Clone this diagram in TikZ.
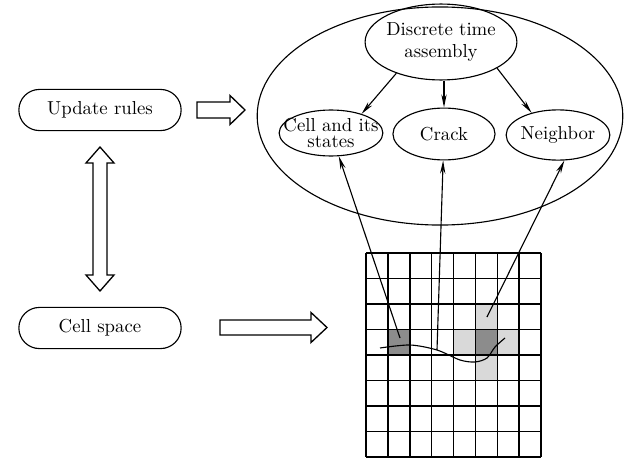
\documentclass[tikz,border=0pt]{standalone}
\usepackage{tikz}
\usetikzlibrary{positioning,shapes.geometric,shapes.misc,arrows.meta}

\tikzset{
  rulebox/.style={rounded rectangle, draw, line width=0.6pt, minimum width=3.27cm, minimum height=0.77cm},
  oval/.style={ellipse, draw, line width=0.6pt, inner sep=0pt},
  link/.style={-{Stealth[length=7pt,width=2.8pt]}, line width=0.6pt},
  fat/.style={draw, line width=0.7pt, fill=white, line join=miter},
}

\begin{document}
\begin{tikzpicture}[x=0.0187cm, y=-0.0187cm]
\useasboundingbox (0,0) rectangle (625,458);

\node[rulebox] (upd) at (100,110) {Update rules};
\node[rulebox] (cel) at (100,328) {Cell space};

% the model
\node[oval, minimum width=6.84cm, minimum height=4.08cm] (big) at (440,116) {};
\node[oval, minimum width=2.84cm, minimum height=1.42cm] (dta) at (441,42) {};
\node[oval, minimum width=1.94cm, minimum height=0.86cm] (cst) at (331,133) {};
\node[oval, minimum width=1.91cm, minimum height=0.97cm] (crk) at (444,134) {};
\node[oval, minimum width=1.94cm, minimum height=0.94cm] (nbr) at (558,135) {};
\node[align=center] (dtatxt) at (dta) {Discrete time\\assembly};
\node[align=center] (csttxt) at (cst) {Cell and its\\[-3pt]states};
\node (crktxt) at (crk) {Crack};
\node (nbrtxt) at (nbr) {Neighbor};

\draw[link] (dta.-145) -- (cst.32);
\draw[link] (dta.south -| crk.north) -- (crk.north);
\draw[link] (dta.-25) -- (nbr.140);

% cell space grid
\fill[black!45] (366+1*21.875,253+3*25.5) rectangle ++(21.875,25.5);
\foreach \c/\r in {5/2,4/3,6/3,5/4}
  \fill[black!15] (366+\c*21.875,253+\r*25.5) rectangle ++(21.875,25.5);
\fill[black!45] (366+5*21.875,253+3*25.5) rectangle ++(21.875,25.5);
\foreach \i in {0,...,8} {
  \draw[line width=0.8pt] (366+\i*21.875,253) -- ++(0,204);
  \draw[line width=0.8pt] (366,253+\i*25.5) -- ++(175,0);
}
\draw[line width=0.6pt] plot[smooth] coordinates {(380,348) (410,345) (437,350) (460,360) (475,362) (487,358) (495,347) (505,338)};

\coordinate (p1) at (400,338);
\coordinate (p2) at (437,350);
\coordinate (p3) at (487,317);
\draw[link] (p1) -- (cst);
\draw[link] (p2) -- (crk);
\draw[link] (p3) -- (nbr.-76);

% hollow arrows
\coordinate (ua) at (197,110);
\coordinate (ca) at (220,327.5);
\coordinate (va) at (100,147);
\draw[fat] (ua) -- ++(0,-8) -- ++(33,0) -- ++(0,-6.5) -- ++(15,14.5) -- ++(-15,14.5) -- ++(0,-6.5) -- ++(-33,0) -- cycle;
\draw[fat] (ca) -- ++(0,-7.5) -- ++(91,0) -- ++(0,-7.5) -- ++(16,15) -- ++(-16,15) -- ++(0,-7.5) -- ++(-91,0) -- cycle;
\draw[fat] (va) -- ++(14,16) -- ++(-7,0) -- ++(0,112) -- ++(7,0) -- ++(-14,16) -- ++(-14,-16) -- ++(7,0) -- ++(0,-112) -- ++(-7,0) -- cycle;
\end{tikzpicture}
\end{document}
